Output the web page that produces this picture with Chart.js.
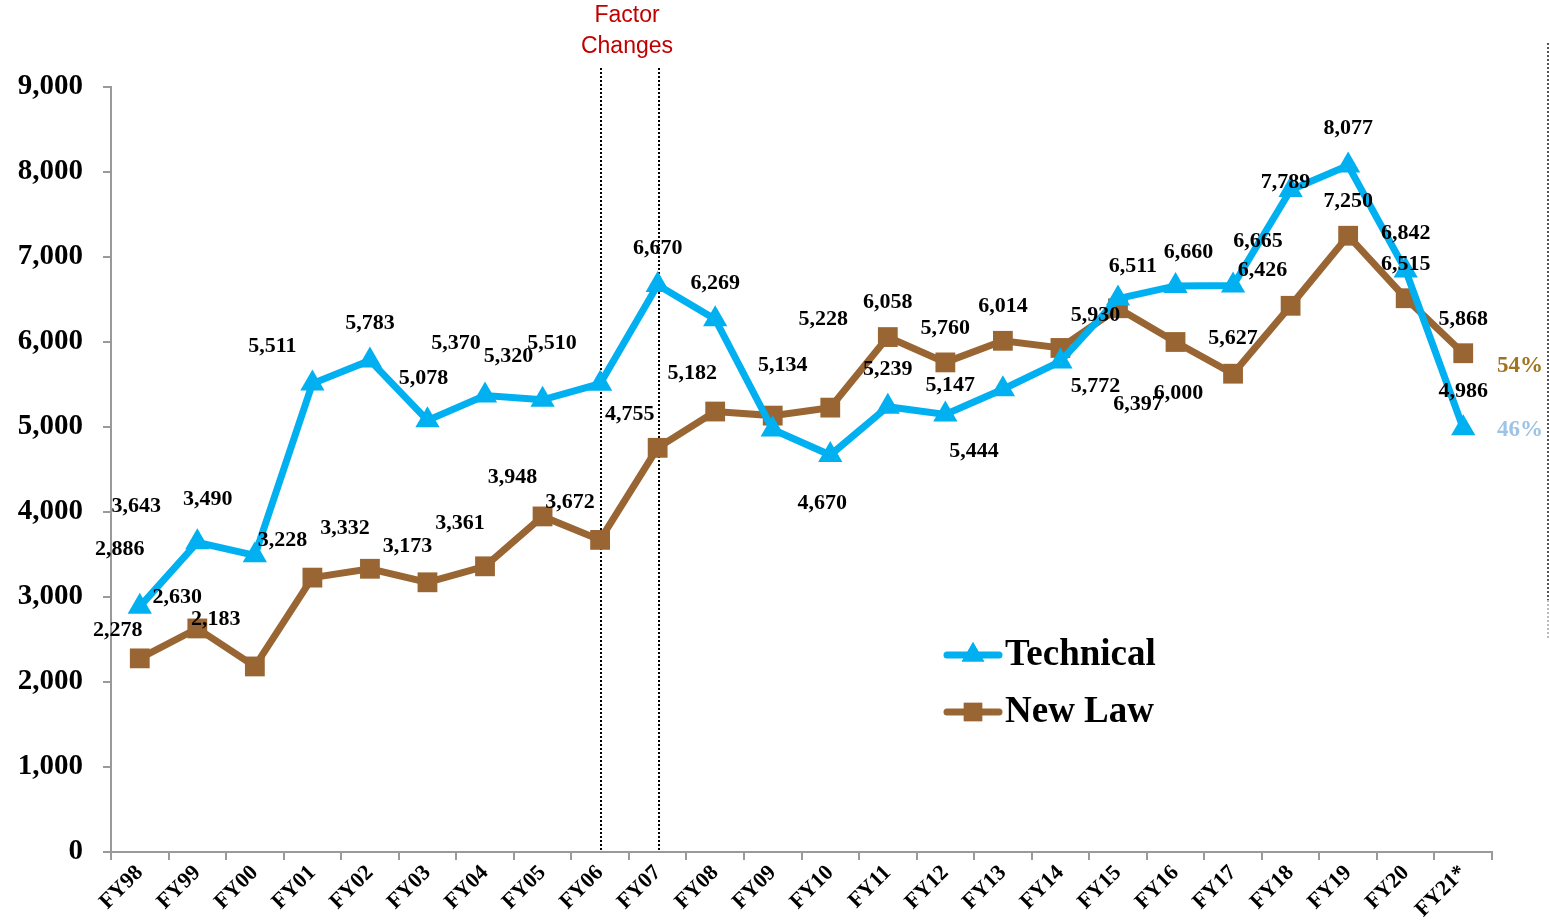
<!DOCTYPE html>
<html>
<head>
<meta charset="utf-8">
<script src="https://cdn.jsdelivr.net/npm/chart.js@4"></script>
<style>
  html, body { margin: 0; padding: 0; background: #fff; }
  #wrap { width: 1550px; height: 923px; position: relative; }
</style>
</head>
<body>
<div id="wrap"><canvas id="grafico"></canvas></div>
<script>
// Dados
const anos = ['FY98', 'FY99', 'FY00', 'FY01', 'FY02', 'FY03', 'FY04', 'FY05', 'FY06', 'FY07', 'FY08', 'FY09',
  'FY10', 'FY11', 'FY12', 'FY13', 'FY14', 'FY15', 'FY16', 'FY17', 'FY18', 'FY19', 'FY20', 'FY21*'];
const technical = [2886, 3643, 3490, 5511, 5783, 5078, 5370, 5320, 5510, 6670, 6269, 4970,
  4670, 5239, 5147, 5444, 5772, 6511, 6660, 6665, 7789, 8077, 6842, 4986];
const newLaw = [2278, 2630, 2183, 3228, 3332, 3173, 3361, 3948, 3672, 4755, 5182, 5134,
  5228, 6058, 5760, 6014, 5930, 6397, 6000, 5627, 6426, 7250, 6515, 5868];
const percentuais = ['54%', '46%'];
const marcos = ['FY06', 'FY07'];

// Posição dos rótulos em relação ao ponto (null = sem rótulo)
const desvioTechnical = [[-20, -57], [-61, -36], [-47, -56], [-40, -37], [0, -37], [-4, -42], [-29, -52], [-34, -43],
  [-48, -40], [0, -37], [0, -36], null, [-8, 48], [0, -37], [5, -29], [-29, 62], [35, 25], [15, -32],
  [13, -34], [25, -44], [-5, -8], [0, -37], [0, -37], [0, -37]];
const desvioNewLaw = [[-22, -28], [-20, -31], [-39, -47], [-30, -37], [-25, -40], [-20, -36], [-25, -43], [-30, -39],
  [-30, -38], [-28, -34], [-23, -38], [10, -50], [-7, -88], [0, -35], [0, -34], [0, -34], [35, -33], [20, 96],
  [3, 51], [0, -35], [-28, -35], [0, -34], [0, -34], [0, -34]];

const serif = "'Liberation Serif', 'DejaVu Serif', serif";
const azul = '#00B0F0';
const marrom = '#996633';
const eixo = '#9a9a9a';

const fmt = v => Number(v).toLocaleString('en-US');

const extras = {
  id: 'extras',
  beforeDatasetsDraw(chart) {
    const ctx = chart.ctx;
    const xs = chart.scales.x;
    const area = chart.chartArea;
    ctx.save();
    ctx.strokeStyle = '#000';
    ctx.lineWidth = 2;
    ctx.setLineDash([2, 2]);
    marcos.forEach(m => {
      const px = Math.round(xs.getPixelForValue(anos.indexOf(m))) + 1;
      ctx.beginPath();
      ctx.moveTo(px, 68);
      ctx.lineTo(px, area.bottom);
      ctx.stroke();
    });
    // linha pontilhada da direita
    ctx.strokeStyle = '#555';
    ctx.beginPath();
    ctx.moveTo(1548, 43);
    ctx.lineTo(1548, 600);
    ctx.stroke();
    ctx.strokeStyle = '#bbb';
    ctx.beginPath();
    ctx.moveTo(1548, 600);
    ctx.lineTo(1548, 640);
    ctx.stroke();
    ctx.restore();

    ctx.save();
    ctx.fillStyle = '#C00000';
    ctx.font = "23px 'Liberation Sans', Arial, sans-serif";
    ctx.textAlign = 'center';
    ctx.textBaseline = 'middle';
    ctx.fillText('Factor', 627, 16);
    ctx.fillText('Changes', 627, 47);
    ctx.restore();
  },
  afterDatasetsDraw(chart) {
    const ctx = chart.ctx;
    const desvios = [desvioTechnical, desvioNewLaw];
    ctx.save();
    ctx.font = 'bold 22px ' + serif;
    ctx.fillStyle = '#000';
    ctx.textAlign = 'center';
    ctx.textBaseline = 'middle';
    chart.data.datasets.forEach((ds, di) => {
      const meta = chart.getDatasetMeta(di);
      meta.data.forEach((pt, i) => {
        const off = desvios[di][i];
        if (!off) return;
        ctx.fillText(fmt(ds.data[i]), pt.x + off[0], pt.y + off[1]);
      });
    });

    // percentuais à direita
    ctx.font = 'bold 23px ' + serif;
    ctx.fillStyle = '#A0741E';
    ctx.fillText(percentuais[0], 1520, 366);
    ctx.fillStyle = '#9DC3E6';
    ctx.fillText(percentuais[1], 1520, 430);

    // legenda manual
    const itens = [
      { texto: 'Technical', cor: azul, ponto: 'triangle', y: 655 },
      { texto: 'New Law', cor: marrom, ponto: 'rect', y: 712 }
    ];
    itens.forEach(item => {
      ctx.strokeStyle = item.cor;
      ctx.lineWidth = 7;
      ctx.lineCap = 'round';
      ctx.beginPath();
      ctx.moveTo(947, item.y);
      ctx.lineTo(999, item.y);
      ctx.stroke();
      ctx.fillStyle = item.cor;
      Chart.helpers.drawPoint(ctx, { pointStyle: item.ponto, radius: 13, borderWidth: 0 }, 973, item.y);
      ctx.fill();
      ctx.fillStyle = '#000';
      ctx.font = 'bold 37px ' + serif;
      ctx.textAlign = 'left';
      ctx.fillText(item.texto, 1005, item.y);
    });
    ctx.restore();
  }
};

const ctx = document.getElementById('grafico').getContext('2d');
window.grafico = new Chart(ctx, {
  type: 'line',
  data: {
    labels: anos,
    datasets: [
      {
        label: 'Technical',
        data: technical,
        borderColor: azul,
        backgroundColor: azul,
        borderWidth: 7,
        pointStyle: 'triangle',
        pointRadius: 14,
        pointBorderWidth: 0,
        tension: 0
      },
      {
        label: 'New Law',
        data: newLaw,
        borderColor: marrom,
        backgroundColor: marrom,
        borderWidth: 7,
        pointStyle: 'rect',
        pointRadius: 14,
        pointBorderWidth: 0,
        tension: 0
      }
    ]
  },
  options: {
    responsive: true,
    maintainAspectRatio: false,
    animation: false,
    layout: { padding: { top: 87, right: 58, left: 0, bottom: 0 } },
    plugins: {
      legend: { display: false },
      tooltip: { enabled: false }
    },
    scales: {
      x: {
        offset: true,
        border: { color: eixo, width: 2 },
        grid: { display: true, drawOnChartArea: false, offset: true, tickLength: 8, color: eixo, lineWidth: 2 },
        ticks: {
          autoSkip: false,
          maxRotation: 45,
          minRotation: 45,
          padding: 0,
          color: '#000',
          font: { family: serif, size: 22, weight: 'bold' }
        },
        afterFit(scale) { scale.height = 71; }
      },
      y: {
        min: 0,
        max: 9000,
        border: { color: eixo, width: 2 },
        grid: { display: true, drawOnChartArea: false, tickLength: 8, color: eixo, lineWidth: 2 },
        ticks: {
          stepSize: 1000,
          padding: 20,
          color: '#000',
          font: { family: serif, size: 29, weight: 'bold' },
          callback: v => fmt(v)
        },
        afterFit(scale) { scale.width = 111; }
      }
    }
  },
  plugins: [extras]
});
</script>
</body>
</html>
